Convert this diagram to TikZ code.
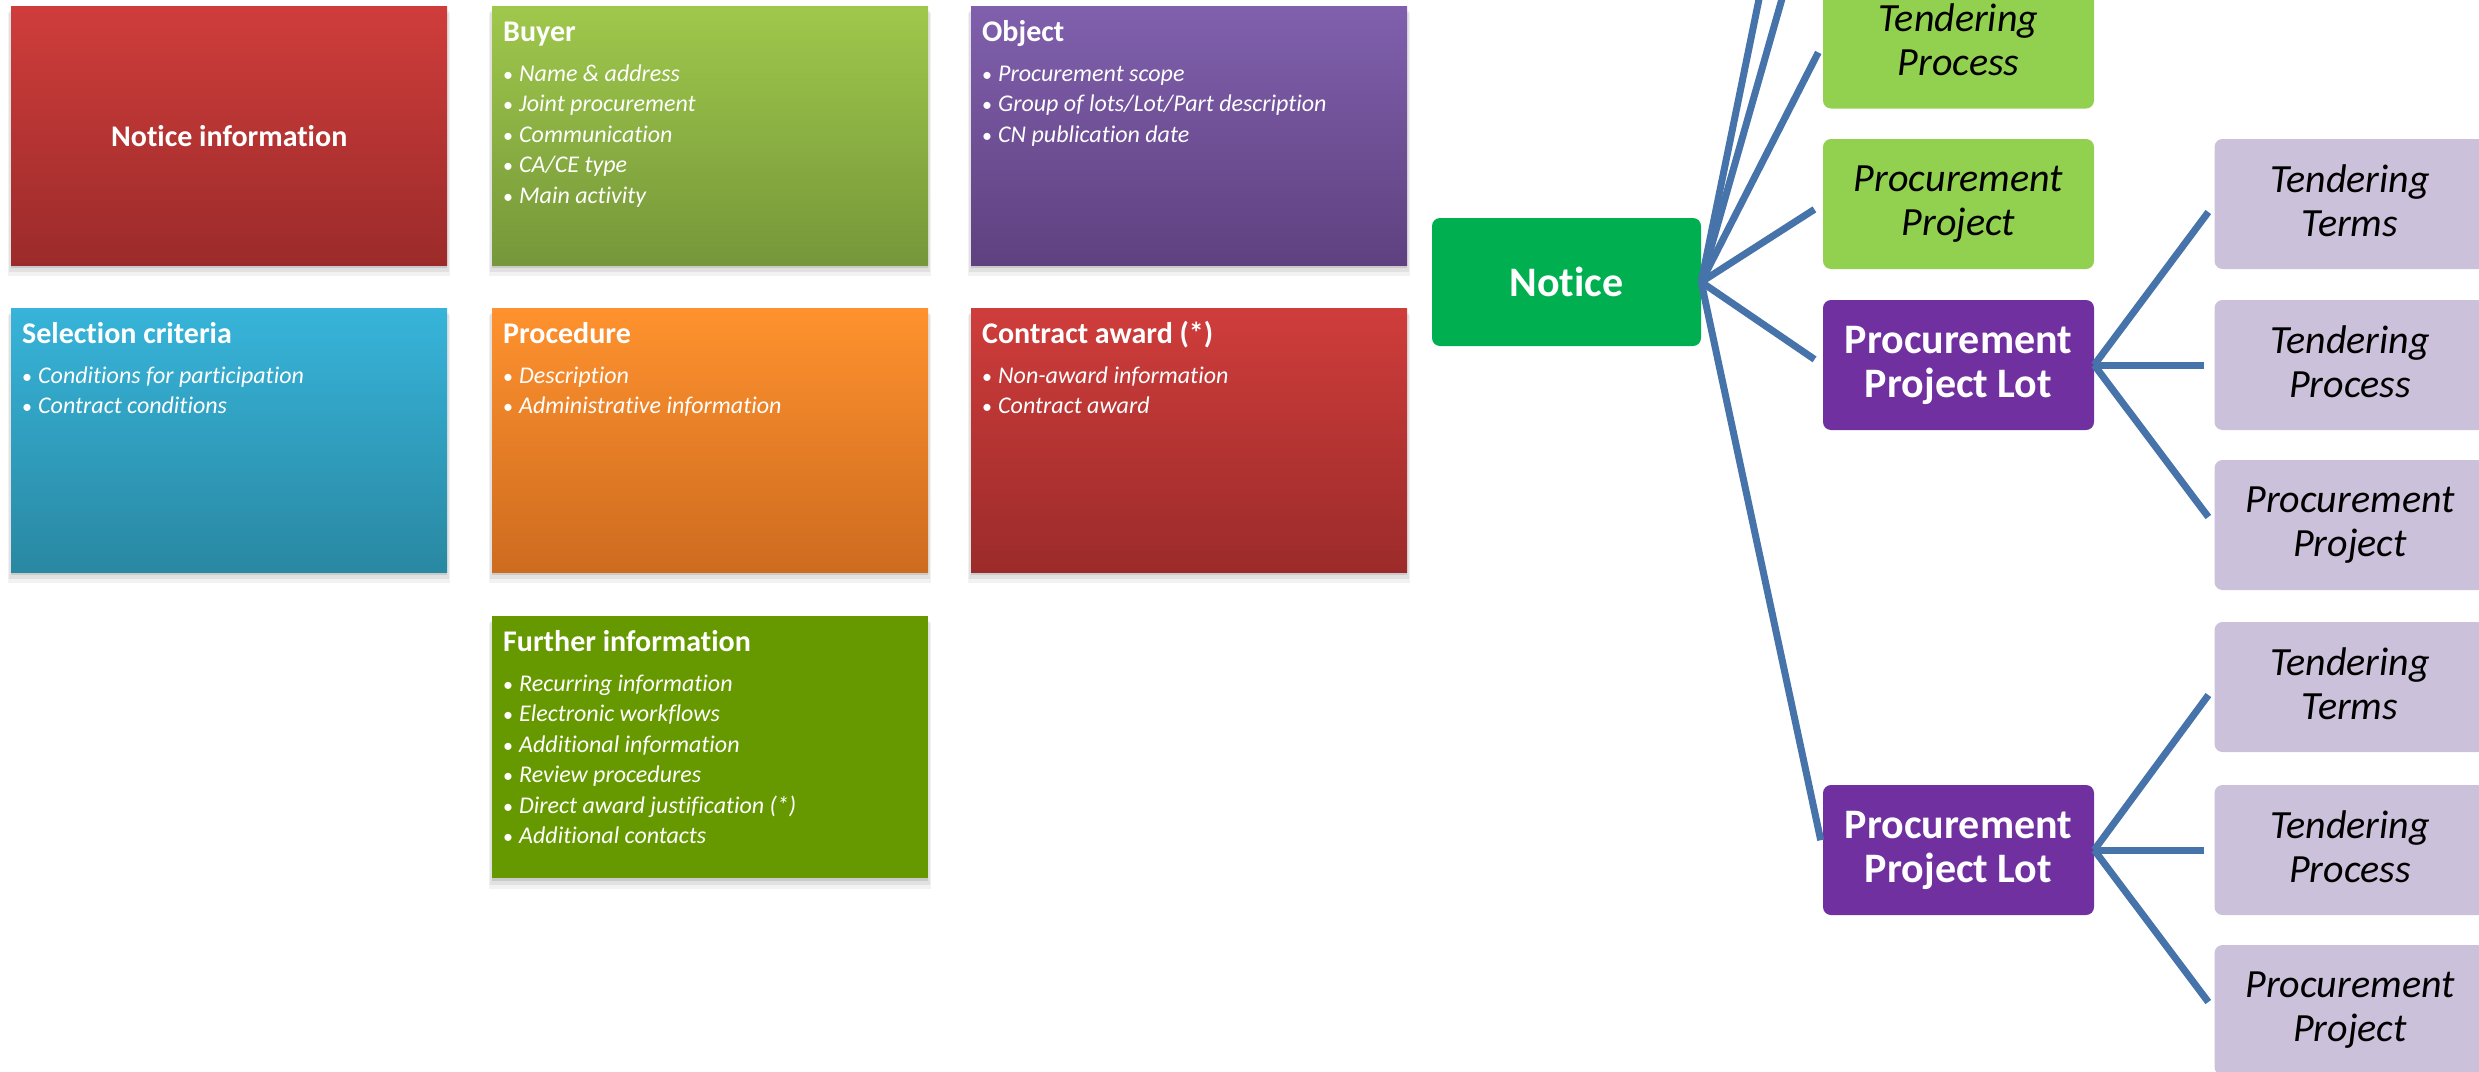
\documentclass[tikz,border=0pt]{standalone}
\usepackage{fontspec}
\setmainfont{Carlito}[Ligatures={NoCommon}]
\usetikzlibrary{shadows}
\definecolor{redT}{HTML}{CF3D3B}
\definecolor{redB}{HTML}{9B2B2A}
\definecolor{grT}{HTML}{9FC84B}
\definecolor{grB}{HTML}{76973A}
\definecolor{viT}{HTML}{8060AD}
\definecolor{viB}{HTML}{5F4180}
\definecolor{blT}{HTML}{37B4DA}
\definecolor{blB}{HTML}{2988A2}
\definecolor{orT}{HTML}{FF922E}
\definecolor{orB}{HTML}{CD6B1F}
\definecolor{fGreen}{HTML}{669900}
\definecolor{nGreen}{HTML}{00B050}
\definecolor{lGreen}{HTML}{92D050}
\definecolor{dPurple}{HTML}{7030A0}
\definecolor{lav}{HTML}{CCC1DA}
\definecolor{lineBlue}{HTML}{4673AA}
\begin{document}
\begin{tikzpicture}[x=1pt,y=-1pt,
  softshadow/.style={
    general shadow={fill=black, opacity=0.05, shadow yshift=-9pt, shadow scale=1.015},
    general shadow={fill=black, opacity=0.07, shadow yshift=-6pt, shadow scale=1.008},
    general shadow={fill=black, opacity=0.10, shadow yshift=-3pt}},
  lbox/.style={rectangle, minimum width=436pt, inner sep=0pt, anchor=north west, softshadow},
  ttl/.style={inner sep=0pt, text=white, font=\fontsize{30}{36}\selectfont\bfseries},
  itm/.style={anchor=base west, inner sep=0pt, text=white, font=\fontsize{24}{28}\selectfont\itshape,
    execute at begin node={\makebox[16pt][l]{\upshape\fontsize{20}{24}\selectfont\textbullet}}},
  rbox/.style={rectangle, rounded corners=8pt, minimum width=271pt, minimum height=130pt, inner sep=0pt, align=center,
    execute at end node={\vphantom{j}}},
  gbox/.style={rbox, fill=lGreen, text=black, font=\fontsize{40}{44}\selectfont\itshape},
  vbox/.style={rbox, fill=lav, text=black, font=\fontsize{40}{44}\selectfont\itshape},
  pbox/.style={rbox, fill=dPurple, text=white, font=\fontsize{42}{44}\selectfont\bfseries},
  conn/.style={draw=lineBlue, line width=7pt, shorten >=10pt}
]
\useasboundingbox (0,0) rectangle (2479,1071);
\clip (0,0) rectangle (2479,1071);

% ---------- left panels ----------
\node[lbox, minimum height=259pt, top color=redT, bottom color=redB] (ni) at (11,6) {};
\node[ttl] (nit) at (ni.center) {Notice information};

\node[lbox, minimum height=259pt, top color=grT, bottom color=grB] (buy) at (492,6) {};
\node[ttl, anchor=base west] (buyt) at ([shift={(11pt,-35pt)}]buy.north west) {Buyer};
\foreach \t [count=\i] in {Name \& address, Joint procurement, Communication, CA/CE type, Main activity}
  \node[itm] (buy\i) at ([shift={(11pt,{-75pt-(\i-1)*30.5pt})}]buy.north west) {\t};

\node[lbox, minimum height=259pt, top color=viT, bottom color=viB] (obj) at (971,6) {};
\node[ttl, anchor=base west] (objt) at ([shift={(11pt,-35pt)}]obj.north west) {Object};
\foreach \t [count=\i] in {Procurement scope, Group of lots/Lot/Part description, CN publication date}
  \node[itm] (obj\i) at ([shift={(11pt,{-75pt-(\i-1)*30.5pt})}]obj.north west) {\t};

\node[lbox, minimum height=264pt, top color=blT, bottom color=blB] (sel) at (11,308) {};
\node[ttl, anchor=base west] (selt) at ([shift={(11pt,-35pt)}]sel.north west) {Selection criteria};
\foreach \t [count=\i] in {Conditions for participation, Contract conditions}
  \node[itm] (sel\i) at ([shift={(11pt,{-75pt-(\i-1)*30.5pt})}]sel.north west) {\t};

\node[lbox, minimum height=264pt, top color=orT, bottom color=orB] (proc) at (492,308) {};
\node[ttl, anchor=base west] (proct) at ([shift={(11pt,-35pt)}]proc.north west) {Procedure};
\foreach \t [count=\i] in {Description, Administrative information}
  \node[itm] (proc\i) at ([shift={(11pt,{-75pt-(\i-1)*30.5pt})}]proc.north west) {\t};

\node[lbox, minimum height=264pt, top color=redT, bottom color=redB] (ca) at (971,308) {};
\node[ttl, anchor=base west] (cat) at ([shift={(11pt,-35pt)}]ca.north west) {Contract award (*)};
\foreach \t [count=\i] in {Non-award information, Contract award}
  \node[itm] (ca\i) at ([shift={(11pt,{-75pt-(\i-1)*30.5pt})}]ca.north west) {\t};

\node[lbox, minimum height=262pt, fill=fGreen] (fur) at (492,616) {};
\node[ttl, anchor=base west] (furt) at ([shift={(11pt,-35pt)}]fur.north west) {Further information};
\foreach \t [count=\i] in {Recurring information, Electronic workflows, Additional information, Review procedures, Direct award justification (*), Additional contacts}
  \node[itm] (fur\i) at ([shift={(11pt,{-75pt-(\i-1)*30.5pt})}]fur.north west) {\t};

% ---------- right tree ----------
\node[rectangle, rounded corners=8pt, minimum width=269pt, minimum height=128pt, inner sep=0pt,
  fill=nGreen, text=white, font=\fontsize{42}{44}\selectfont\bfseries] (notice) at (1566.5,282) {Notice};

\node[gbox] (gtp) at (1958.5,43.5) {Tendering\\Process};
\node[gbox] (gpp) at (1958.5,204) {Procurement\\Project};
\node[pbox] (ppl1) at (1958.5,365) {Procurement\\Project Lot};
\node[pbox] (ppl2) at (1958.5,850) {Procurement\\Project Lot};

\node[vbox] (tt1) at (2350,204) {Tendering\\Terms};
\node[vbox] (tp1) at (2350,365) {Tendering\\Process};
\node[vbox] (pp1) at (2350,525) {Procurement\\Project};
\node[vbox] (tt2) at (2350,687) {Tendering\\Terms};
\node[vbox] (tp2) at (2350,850) {Tendering\\Process};
\node[vbox] (pp2) at (2350,1010) {Procurement\\Project};

\coordinate (up1) at (1813,-110);
\coordinate (up2) at (1813,-265);

\draw[conn] (notice.east) -- (up2);
\draw[conn] (notice.east) -- (up1);
\draw[conn] (notice.east) -- (gtp.west);
\draw[conn] (notice.east) -- (gpp.west);
\draw[conn] (notice.east) -- (ppl1.west);
\draw[conn] (notice.east) -- (ppl2.west);

\draw[conn] (ppl1.east) -- (tt1.west);
\draw[conn] (ppl1.east) -- (tp1.west);
\draw[conn] (ppl1.east) -- (pp1.west);
\draw[conn] (ppl2.east) -- (tt2.west);
\draw[conn] (ppl2.east) -- (tp2.west);
\draw[conn] (ppl2.east) -- (pp2.west);
\end{tikzpicture}
\end{document}
